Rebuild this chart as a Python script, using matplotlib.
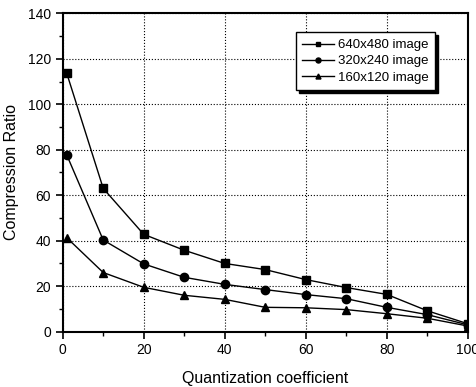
import matplotlib.pyplot as plt
from matplotlib.ticker import MultipleLocator

plt.rcParams['font.family'] = ['Liberation Sans', 'DejaVu Sans']

# coefficient de quantificação e taxa de compressão para cada resolução
quant = [1, 10, 20, 30, 40, 50, 60, 70, 80, 90, 100]
ratio_640 = [113.6, 63, 42.8, 35.8, 30, 27.3, 22.9, 19.4, 16.4, 9.2, 3.5]
ratio_320 = [77.7, 40.3, 29.8, 23.9, 20.8, 18.5, 16.3, 14.5, 10.7, 7.5, 3]
ratio_160 = [41.3, 26, 19.5, 16, 14.2, 10.7, 10.5, 9.7, 7.9, 5.9, 2.5]
nomes = ['640x480 image', '320x240 image', '160x120 image']

fig = plt.figure(figsize=(4.77, 3.87), dpi=100)
ax = fig.add_axes([0.1315, 0.143, 0.849, 0.8226])

ax.plot(quant, ratio_640, '-s', color='black', lw=1, ms=6, label=nomes[0])
ax.plot(quant, ratio_320, '-o', color='black', lw=1, ms=6, label=nomes[1])
ax.plot(quant, ratio_160, '-^', color='black', lw=1, ms=6, label=nomes[2])

ax.set_xlim(0, 100)
ax.set_ylim(0, 140)
ax.xaxis.set_major_locator(MultipleLocator(20))
ax.xaxis.set_minor_locator(MultipleLocator(10))
ax.yaxis.set_major_locator(MultipleLocator(20))
ax.yaxis.set_minor_locator(MultipleLocator(10))
ax.tick_params(which='major', direction='out', length=5, width=1.2,
               labelsize=10, top=False, right=False)
ax.tick_params(which='minor', direction='out', length=3, width=1,
               top=False, right=False)
for s in ax.spines.values():
    s.set_linewidth(1.5)

ax.grid(True, which='major', linestyle=':', color='black', lw=0.8)

ax.set_xlabel('Quantization coefficient', fontsize=11.5, labelpad=10)
ax.set_ylabel('Compression Ratio', fontsize=11.5, labelpad=6)

leg = ax.legend(loc='upper right', bbox_to_anchor=(0.92, 0.94), fontsize=9.5,
                frameon=True, fancybox=False, edgecolor='black',
                shadow={'color': 'black', 'alpha': 1, 'ox': 2, 'oy': -2},
                handlelength=2.4, handletextpad=0.3, markerscale=0.6,
                borderpad=0.5, labelspacing=0.3, borderaxespad=0)
leg.get_frame().set_linewidth(1)

fig.savefig('out.png', dpi=100)
